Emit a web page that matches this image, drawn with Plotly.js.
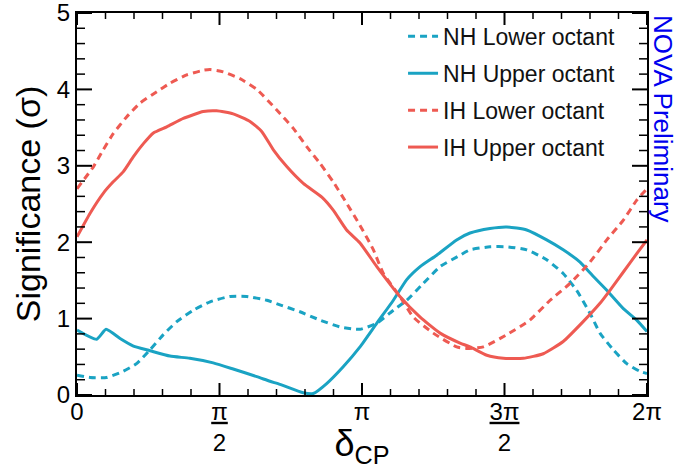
<!DOCTYPE html>
<html>
<head>
<meta charset="utf-8">
<script src="https://cdn.plot.ly/plotly-3.0.1.min.js"></script>
<style>html,body{margin:0;padding:0;background:#fff;}#chart{width:677px;height:469px;}</style>
</head>
<body>
<div id="chart"></div>
<script>
// delta_CP in units of pi
const nhLowerX = [0, 0.046, 0.104, 0.162, 0.209, 0.256, 0.303, 0.350, 0.408, 0.467, 0.537, 0.595, 0.666, 0.712, 0.782, 0.853, 0.923, 0.993, 1.052, 1.110, 1.157, 1.215, 1.274, 1.344, 1.379, 1.449, 1.508, 1.578, 1.648, 1.706, 1.753, 1.800, 1.835, 1.882, 1.929, 1.975, 2.0];
const nhLowerY = [0.26, 0.23, 0.23, 0.31, 0.41, 0.59, 0.79, 0.96, 1.11, 1.22, 1.29, 1.29, 1.24, 1.18, 1.09, 0.98, 0.89, 0.86, 0.94, 1.11, 1.24, 1.46, 1.68, 1.83, 1.90, 1.94, 1.94, 1.90, 1.77, 1.59, 1.37, 1.07, 0.81, 0.59, 0.41, 0.31, 0.28];

const nhUpperX = [0, 0.069, 0.102, 0.151, 0.198, 0.256, 0.326, 0.396, 0.478, 0.548, 0.631, 0.677, 0.712, 0.794, 0.829, 0.876, 0.934, 0.993, 1.052, 1.110, 1.157, 1.204, 1.262, 1.332, 1.379, 1.449, 1.508, 1.578, 1.648, 1.706, 1.765, 1.812, 1.859, 1.917, 1.964, 2.0];
const nhUpperY = [0.85, 0.73, 0.86, 0.74, 0.64, 0.58, 0.51, 0.48, 0.42, 0.34, 0.24, 0.18, 0.14, 0.03, 0.02, 0.15, 0.37, 0.63, 0.94, 1.24, 1.51, 1.68, 1.83, 2.03, 2.12, 2.18, 2.20, 2.16, 2.03, 1.90, 1.74, 1.55, 1.37, 1.13, 0.98, 0.83];

const ihLowerX = [0, 0.058, 0.092, 0.127, 0.174, 0.221, 0.280, 0.326, 0.385, 0.443, 0.467, 0.513, 0.572, 0.631, 0.701, 0.759, 0.806, 0.853, 0.899, 0.946, 0.993, 1.040, 1.075, 1.133, 1.180, 1.250, 1.332, 1.367, 1.426, 1.508, 1.589, 1.660, 1.730, 1.800, 1.859, 1.917, 1.964, 2.0];
const ihLowerY = [2.70, 2.99, 3.21, 3.42, 3.64, 3.82, 3.97, 4.08, 4.19, 4.25, 4.26, 4.23, 4.14, 4.00, 3.73, 3.49, 3.25, 3.03, 2.79, 2.51, 2.22, 1.90, 1.59, 1.29, 1.02, 0.81, 0.63, 0.61, 0.63, 0.79, 0.98, 1.24, 1.46, 1.74, 2.03, 2.29, 2.55, 2.70];

const ihUpperX = [0, 0.046, 0.092, 0.127, 0.162, 0.198, 0.233, 0.268, 0.315, 0.373, 0.443, 0.490, 0.548, 0.607, 0.648, 0.689, 0.736, 0.794, 0.859, 0.899, 0.946, 0.993, 1.052, 1.133, 1.204, 1.274, 1.344, 1.379, 1.438, 1.496, 1.566, 1.636, 1.706, 1.776, 1.835, 1.870, 1.917, 1.964, 2.0];
const ihUpperY = [2.07, 2.38, 2.64, 2.79, 2.92, 3.12, 3.29, 3.43, 3.51, 3.62, 3.71, 3.72, 3.68, 3.58, 3.45, 3.21, 2.99, 2.77, 2.59, 2.42, 2.16, 1.99, 1.68, 1.29, 1.02, 0.81, 0.68, 0.63, 0.52, 0.48, 0.48, 0.54, 0.70, 0.96, 1.20, 1.37, 1.61, 1.85, 2.03];

const seriesNames = ["NH Lower octant", "NH Upper octant", "IH Lower octant", "IH Upper octant"];
const xTickVals = [0, 0.5, 1, 1.5, 2];
const xTickText = ["0", "<u>π</u><br>2", "π", "<u>3π</u><br>2", "2π"];
const yTickVals = [0, 1, 2, 3, 4, 5];
const yTickText = ["0", "1", "2", "3", "4", "5"];
const xMinorVals = [0.1, 0.2, 0.3, 0.4, 0.6, 0.7, 0.8, 0.9, 1.1, 1.2, 1.3, 1.4, 1.6, 1.7, 1.8, 1.9];
const yMinorVals = [0.2, 0.4, 0.6, 0.8, 1.2, 1.4, 1.6, 1.8, 2.2, 2.4, 2.6, 2.8, 3.2, 3.4, 3.6, 3.8, 4.2, 4.4, 4.6, 4.8];

const TEAL = "#1aa3c3";
const RED = "#ee5a52";
const FONT = "Liberation Sans, Arial, sans-serif";

const W = 677, H = 469;
const M = {l: 77, r: 30, t: 13, b: 74};
const X_RANGE = [0, 2], Y_RANGE = [0, 5];
// pixel -> data-unit factors, for tick lengths
const xPerPx = (X_RANGE[1] - X_RANGE[0]) / (W - M.l - M.r);
const yPerPx = (Y_RANGE[1] - Y_RANGE[0]) / (H - M.t - M.b);

function tr(x, y, name, color, dashed, g) {
  return {
    x: x, y: y, name: name, type: "scatter", mode: "lines",
    legendgroup: g,
    line: {color: color, width: 3, dash: dashed ? "7px,5px" : "solid", shape: "spline", smoothing: 0.5}
  };
}

// Inward-pointing tick marks on all four sides, built from the tick arrays
function tickTrace(xv, yv, xLenPx, yLenPx, w) {
  const x = [], y = [];
  const dy = yLenPx * yPerPx, dx = xLenPx * xPerPx;
  xv.forEach(function (v) {
    x.push(v, v, null, v, v, null);
    y.push(Y_RANGE[0], Y_RANGE[0] + dy, null, Y_RANGE[1], Y_RANGE[1] - dy, null);
  });
  yv.forEach(function (v) {
    x.push(X_RANGE[0], X_RANGE[0] + dx, null, X_RANGE[1], X_RANGE[1] - dx, null);
    y.push(v, v, null, v, v, null);
  });
  return {x: x, y: y, type: "scatter", mode: "lines", showlegend: false, hoverinfo: "skip",
          connectgaps: false, line: {color: "#000", width: w}};
}

const data = [
  tr(nhLowerX, nhLowerY, seriesNames[0], TEAL, true, "a"),
  tr(nhUpperX, nhUpperY, seriesNames[1], TEAL, false, "b"),
  tr(ihLowerX, ihLowerY, seriesNames[2], RED, true, "c"),
  tr(ihUpperX, ihUpperY, seriesNames[3], RED, false, "d"),
  tickTrace(xTickVals, yTickVals, 15, 12, 2),
  tickTrace(xMinorVals, yMinorVals, 8, 6, 1.5)
];

const layout = {
  width: W, height: H,
  margin: M,
  paper_bgcolor: "#fff", plot_bgcolor: "#fff",
  font: {family: FONT, color: "#000"},
  showlegend: true,
  legend: {
    x: 0.572, y: 0.995, xanchor: "left", yanchor: "top",
    font: {size: 23, family: FONT, color: "#111"},
    bgcolor: "rgba(0,0,0,0)", traceorder: "grouped", tracegroupgap: 4
  },
  xaxis: {
    range: X_RANGE, showgrid: false, zeroline: false, automargin: false,
    showline: true, linecolor: "#000", linewidth: 2, mirror: true,
    ticks: "", tickmode: "array", tickvals: xTickVals, ticktext: xTickText,
    tickfont: {size: 24, family: FONT, color: "#000"},
    ticklabelstandoff: -6, ticklabeloverflow: "allow",
    title: {text: "δ<sub>CP</sub>", font: {size: 36, family: FONT, color: "#000"}, standoff: 0}
  },
  yaxis: {
    range: Y_RANGE, showgrid: false, zeroline: false, automargin: false,
    showline: true, linecolor: "#000", linewidth: 2, mirror: true,
    ticks: "", tickmode: "array", tickvals: yTickVals, ticktext: yTickText,
    tickfont: {size: 24, family: FONT, color: "#000"}, ticklabeloverflow: "allow",
    title: {text: "Significance (σ)", font: {size: 34, family: FONT, color: "#000"}, standoff: 6}
  },
  annotations: [{
    text: "NOVA Preliminary", xref: "paper", yref: "paper",
    x: 1.0, y: 1.0, xanchor: "left", yanchor: "top", xshift: -1,
    textangle: 90, showarrow: false,
    font: {size: 26, family: FONT, color: "#0000ee"}
  }]
};

Plotly.newPlot("chart", data, layout, {staticPlot: true, displayModeBar: false});
</script>
</body>
</html>
